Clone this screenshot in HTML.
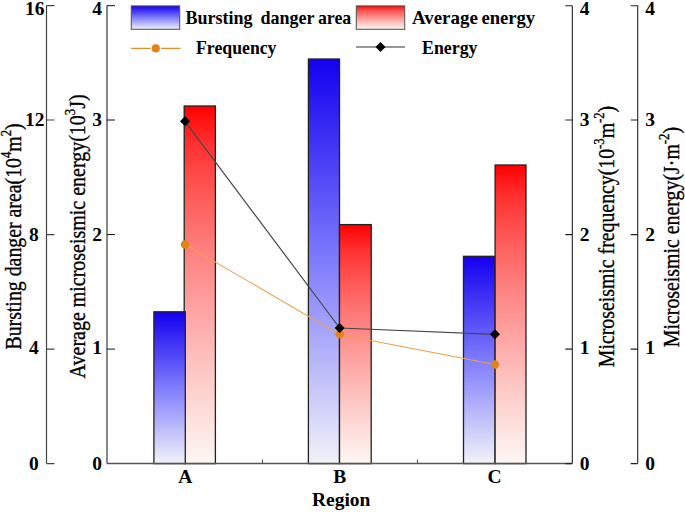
<!DOCTYPE html>
<html><head><meta charset="utf-8"><style>
html,body{margin:0;padding:0;background:#fff;width:685px;height:512px;overflow:hidden}
svg{display:block}
text{font-family:"Liberation Serif",serif}
.tk{font-weight:bold;font-size:19.5px;fill:#000}
.lg{font-weight:bold;font-size:19px;fill:#000}
.tt{font-size:23.5px;fill:#000;stroke:#000;stroke-width:0.35px}
.sp{font-size:15px}
</style></head><body>
<svg width="685" height="512" viewBox="0 0 685 512">
<defs>
<linearGradient id="gb" x1="0" y1="0" x2="0" y2="1">
<stop offset="0" stop-color="#1400f0"/>
<stop offset="0.5" stop-color="#7f7cfc"/>
<stop offset="1" stop-color="#f1f2f8"/>
</linearGradient>
<linearGradient id="gr" x1="0" y1="0" x2="0" y2="1">
<stop offset="0.0" stop-color="#ff0000"/>
<stop offset="0.1" stop-color="#fe2e2e"/>
<stop offset="0.2" stop-color="#fe4d4b"/>
<stop offset="0.3" stop-color="#fe6765"/>
<stop offset="0.4" stop-color="#fd7f7d"/>
<stop offset="0.5" stop-color="#fd9593"/>
<stop offset="0.6" stop-color="#fdaaa8"/>
<stop offset="0.7" stop-color="#fdbfbb"/>
<stop offset="0.8" stop-color="#fcd2cf"/>
<stop offset="0.9" stop-color="#fce5e1"/>
<stop offset="1.0" stop-color="#fcf7f3"/>
</linearGradient>
</defs>

<!-- bars -->
<g stroke="#222" stroke-width="1.3">
<rect x="184.2" y="106" width="31.2" height="357.6" fill="url(#gr)"/>
<rect x="153.9" y="311.8" width="31.4" height="151.8" fill="url(#gb)"/>
<rect x="308.4" y="59" width="31.1" height="404.6" fill="url(#gb)"/>
<rect x="339.5" y="224.6" width="31.7" height="239" fill="url(#gr)"/>
<rect x="463.5" y="256.3" width="31.6" height="207.3" fill="url(#gb)"/>
<rect x="495.1" y="165" width="30.9" height="298.6" fill="url(#gr)"/>
</g>

<!-- axes -->
<g fill="none">
<path stroke="#444" stroke-width="1.2" d="M46.5 5.5V463.6M46.5 5.7h8M46.5 120h8M46.5 234.6h8M46.5 349.1h8M46.5 463.6h8"/>
<path stroke="#111" stroke-width="1" d="M107 5.5V463.6M107 5.7h8M107 120h8M107 234.6h8M107 349.1h8"/>
<path stroke="#555" stroke-width="1.3" d="M107 463.5H572.3"/>
<path stroke="#555" stroke-width="1.1" d="M262.5 463.5v-4M417.5 463.5v-4"/>
<path stroke="#222" stroke-width="1.1" d="M572.3 5.5V463.6M572.3 5.7h-7M572.3 120h-7M572.3 234.6h-7M572.3 349.1h-7M572.3 463.6h-7"/>
<path stroke="#222" stroke-width="1.1" d="M637.7 5.5V463.6M637.7 5.7h-7M637.7 120h-7M637.7 234.6h-7M637.7 349.1h-7M637.7 463.6h-7"/>
</g>

<!-- lines -->
<polyline points="185,244.5 339.7,334.4 495,364.5" fill="none" stroke="#eea04c" stroke-width="1.05"/>
<polyline points="185,121.3 339.7,328 495,334.3" fill="none" stroke="#474747" stroke-width="1.2"/>
<g fill="#e08418">
<circle cx="185" cy="244.5" r="4.2"/>
<circle cx="339.7" cy="334.4" r="4.2"/>
<circle cx="495" cy="364.5" r="4.2"/>
</g>
<g fill="#000">
<path d="M185 116.3l5 5-5 5-5-5z"/>
<path d="M339.7 323l5 5-5 5-5-5z"/>
<path d="M495 329.3l5 5-5 5-5-5z"/>
</g>

<!-- tick labels -->
<g class="tk" text-anchor="middle">
<text x="34.8" y="14.6">16</text>
<text x="34.8" y="125.8">12</text>
<text x="33.8" y="241">8</text>
<text x="33.8" y="354.2">4</text>
<text x="33.8" y="470">0</text>
<text x="97.2" y="14.6">4</text>
<text x="97.2" y="125.8">3</text>
<text x="97.2" y="241">2</text>
<text x="97.2" y="354.2">1</text>
<text x="97.2" y="470">0</text>
<text x="584.7" y="14.6">4</text>
<text x="584.7" y="125.8">3</text>
<text x="584.7" y="241">2</text>
<text x="584.7" y="354.2">1</text>
<text x="584.7" y="470">0</text>
<text x="650" y="14.6">4</text>
<text x="650" y="125.8">3</text>
<text x="650" y="241">2</text>
<text x="650" y="354.2">1</text>
<text x="650" y="470">0</text>
<text x="185.3" y="483">A</text>
<text x="339.7" y="483">B</text>
<text x="494.5" y="483">C</text>
<text x="341.2" y="506">Region</text>
</g>

<!-- legend -->
<rect x="131.3" y="5.9" width="48.4" height="23.4" fill="url(#gb)" stroke="#555" stroke-width="1.05"/>
<rect x="356.3" y="5.9" width="48.4" height="23.4" fill="url(#gr)" stroke="#555" stroke-width="1.05"/>
<g class="lg">
<text x="185.6" y="23.6" textLength="67" lengthAdjust="spacingAndGlyphs">Bursting</text>
<text x="260.5" y="23.6" textLength="54.1" lengthAdjust="spacingAndGlyphs">danger</text>
<text x="317.9" y="23.6" textLength="33.4" lengthAdjust="spacingAndGlyphs">area</text>
<text x="411.9" y="23.6" textLength="66" lengthAdjust="spacingAndGlyphs">Average</text>
<text x="481.4" y="23.6" textLength="53.8" lengthAdjust="spacingAndGlyphs">energy</text>
<text x="196" y="54.3" textLength="80.5" lengthAdjust="spacingAndGlyphs">Frequency</text>
<text x="422" y="54.3" textLength="55.5" lengthAdjust="spacingAndGlyphs">Energy</text>
</g>
<path d="M131.2 48.4H150.5M161.2 48.4H180.7" stroke="#e88c24" stroke-width="1.2"/>
<circle cx="155.8" cy="48.4" r="4.1" fill="#e08418"/>
<path d="M356 47H405" stroke="#777" stroke-width="1.4"/>
<path d="M380.5 42l5 5-5 5-5-5z" fill="#000"/>

<!-- axis titles -->
<g class="tt">
<text transform="translate(21.2,349.6) rotate(-90)" textLength="226.3" lengthAdjust="spacingAndGlyphs">Bursting danger area(10<tspan class="sp" dy="-10">4</tspan><tspan dy="10">m</tspan><tspan class="sp" dy="-10">2</tspan><tspan dy="10">)</tspan></text>
<text transform="translate(84.8,378.4) rotate(-90)" textLength="284" lengthAdjust="spacingAndGlyphs">Average microseismic energy(10<tspan class="sp" dy="-10">3</tspan><tspan dy="10">J)</tspan></text>
<text transform="translate(614,367.2) rotate(-90)" textLength="261.4" lengthAdjust="spacingAndGlyphs">Microseismic frequency(10<tspan class="sp" dy="-10">-3</tspan><tspan dy="10">m</tspan><tspan class="sp" dy="-10">-2</tspan><tspan dy="10">)</tspan></text>
<text transform="translate(679.25,347.2) rotate(-90)" textLength="220.2" lengthAdjust="spacingAndGlyphs">Microseismic energy(J·m<tspan class="sp" dy="-10">-2</tspan><tspan dy="10">)</tspan></text>
</g>
</svg>
</body></html>
